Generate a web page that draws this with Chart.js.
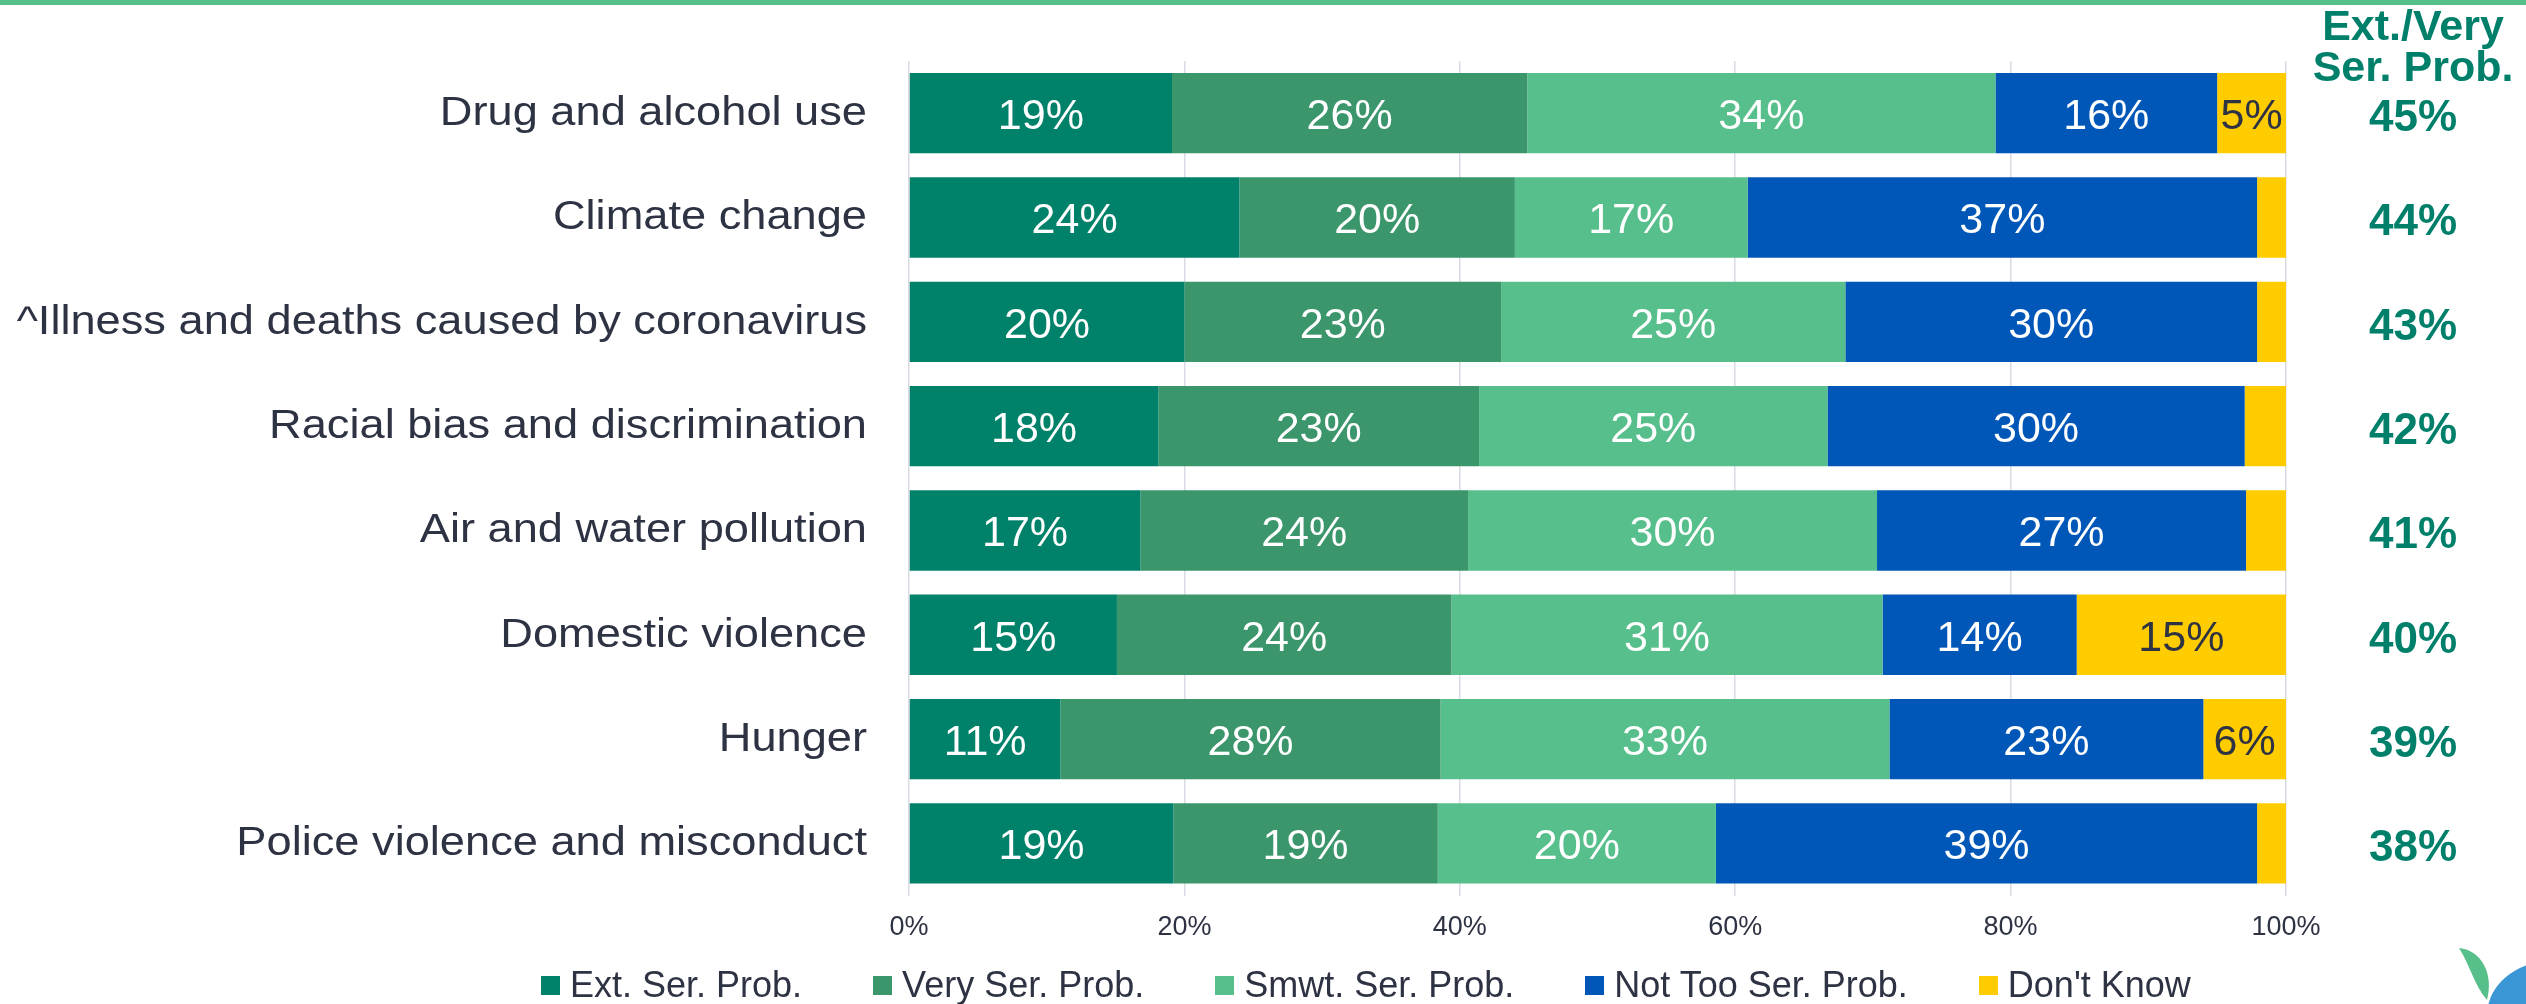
<!DOCTYPE html>
<html>
<head>
<meta charset="utf-8">
<title>Serious problems</title>
<script src="https://cdn.jsdelivr.net/npm/chart.js@4.4.1/dist/chart.umd.min.js"></script>
<style>
    html, body { margin: 0; padding: 0; background: #fff; }
    #wrap { position: relative; width: 2526px; height: 1004px; overflow: hidden; }
    #chart { display: block; }
    #legend { position: absolute; left: 541px; top: 967px; display: flex; align-items: center;
              font: 36px "Liberation Sans", Arial, sans-serif; color: #2e3344; line-height: 1; white-space: nowrap; }
    .item { display: flex; align-items: center; margin-right: 71px; }
    .box { width: 19px; height: 19px; margin-right: 10px; }
</style>
</head>
<body>
<div id="wrap">
    <canvas id="chart" width="2526" height="1004"></canvas>
    <div id="legend"></div>
</div>
<script>
// Data
const categories = [
    'Drug and alcohol use',
    'Climate change',
    '^Illness and deaths caused by coronavirus',
    'Racial bias and discrimination',
    'Air and water pollution',
    'Domestic violence',
    'Hunger',
    'Police violence and misconduct'
];
const extSer   = [19.1, 24.0, 20.0, 18.1, 16.8, 15.1, 11.0, 19.2];
const verySer  = [25.8, 20.0, 23.0, 23.3, 23.8, 24.3, 27.6, 19.2];
const smwtSer  = [34.0, 16.9, 25.0, 25.3, 29.7, 31.3, 32.6, 20.2];
const notTooSer = [16.1, 37.0, 29.9, 30.3, 26.8, 14.1, 22.8, 39.3];
const dontKnow = [5.0, 2.1, 2.1, 3.0, 2.9, 15.2, 6.0, 2.1];
const extVery  = [45, 44, 43, 42, 41, 40, 39, 38];
const xTicks   = [0, 20, 40, 60, 80, 100];

const seriesNames  = ['Ext. Ser. Prob.', 'Very Ser. Prob.', 'Smwt. Ser. Prob.', 'Not Too Ser. Prob.', "Don't Know"];
const seriesColors = ['#00816a', '#3b966c', '#57bf8b', '#0057b8', '#ffcc00'];
const seriesData   = [extSer, verySer, smwtSer, notTooSer, dontKnow];

const textColor = '#2e3344';
const brandGreen = '#00806a';
const font = '"Liberation Sans", Arial, sans-serif';

// Green rule on top + leaf in the corner
const decorPlugin = {
    id: 'decor',
    beforeDraw(chart) {
        const ctx = chart.ctx;
        ctx.save();
        ctx.fillStyle = '#57bf8a';
        ctx.fillRect(0, 0, chart.width, 5);
        ctx.restore();
    },
    afterDraw(chart) {
        const ctx = chart.ctx;
        ctx.save();
        ctx.fillStyle = '#57bf8a';
        ctx.beginPath();
        ctx.moveTo(2459, 948);
        ctx.bezierCurveTo(2482, 950, 2494, 975, 2487, 1000);
        ctx.bezierCurveTo(2474, 985, 2470, 965, 2459, 948);
        ctx.fill();
        ctx.fillStyle = '#3a96d4';
        ctx.beginPath();
        ctx.ellipse(2545, 1010, 58, 48, -0.2, 0, Math.PI * 2);
        ctx.fill();
        ctx.restore();
    }
};

// Category names, drawn a bit wide like the original
const rowLabelPlugin = {
    id: 'rowLabels',
    afterDraw(chart) {
        const ctx = chart.ctx;
        const yScale = chart.scales.y;
        const stretch = 1.13;
        ctx.save();
        ctx.font = '40px ' + font;
        ctx.fillStyle = textColor;
        ctx.textAlign = 'right';
        ctx.textBaseline = 'alphabetic';
        ctx.scale(stretch, 1);
        categories.forEach((name, i) => {
            ctx.fillText(name, (chart.chartArea.left - 42) / stretch, yScale.getPixelForValue(i) + 12);
        });
        ctx.restore();
    }
};

// Percent labels inside the bar segments
const segmentLabelPlugin = {
    id: 'segmentLabels',
    afterDatasetsDraw(chart) {
        const ctx = chart.ctx;
        ctx.save();
        ctx.font = '43px ' + font;
        ctx.textAlign = 'center';
        ctx.textBaseline = 'alphabetic';
        chart.data.datasets.forEach((ds, d) => {
            const meta = chart.getDatasetMeta(d);
            ctx.fillStyle = d === 4 ? textColor : '#fff';
            meta.data.forEach((bar, j) => {
                const v = ds.data[j];
                if (v < 4) return;
                const p = bar.getProps(['x', 'y', 'base'], true);
                ctx.fillText(Math.round(v) + '%', (p.x + p.base) / 2, p.y + 16);
            });
        });
        ctx.restore();
    }
};

// Ext./Very column on the right
const sumColumnPlugin = {
    id: 'sumColumn',
    afterDraw(chart) {
        const ctx = chart.ctx;
        const cx = 2413;
        ctx.save();
        ctx.fillStyle = brandGreen;
        ctx.textAlign = 'center';
        ctx.textBaseline = 'alphabetic';
        ctx.font = 'bold 43px ' + font;
        ctx.fillText('Ext./Very', cx, 40);
        ctx.fillText('Ser. Prob.', cx, 81);
        ctx.font = 'bold 44px ' + font;
        extVery.forEach((v, i) => {
            ctx.fillText(v + '%', cx, chart.scales.y.getPixelForValue(i) + 18);
        });
        ctx.restore();
    }
};

const ctx = document.getElementById('chart').getContext('2d');
const chart = new Chart(ctx, {
    type: 'bar',
    data: {
        labels: categories,
        datasets: seriesNames.map((name, i) => ({
            label: name,
            data: seriesData[i],
            backgroundColor: seriesColors[i],
            borderWidth: 0,
            barPercentage: 0.77,
            categoryPercentage: 1
        }))
    },
    options: {
        indexAxis: 'y',
        responsive: false,
        animation: false,
        devicePixelRatio: 1,
        layout: { padding: { left: 909, right: 240, top: 61, bottom: 44 } },
        plugins: { legend: { display: false }, tooltip: { enabled: false } },
        scales: {
            x: {
                stacked: true,
                min: 0,
                max: 100,
                afterBuildTicks: scale => { scale.ticks = xTicks.map(v => ({ value: v })); },
                ticks: { callback: v => v + '%', color: textColor, font: { family: font, size: 27 }, padding: 16 },
                grid: { color: '#d9dbe4', lineWidth: 1.5, drawTicks: false },
                border: { display: false }
            },
            y: { stacked: true, display: false }
        }
    },
    plugins: [decorPlugin, rowLabelPlugin, segmentLabelPlugin, sumColumnPlugin]
});

// Legend in HTML under the chart
const legend = document.getElementById('legend');
seriesNames.forEach((name, i) => {
    const item = document.createElement('div');
    item.className = 'item';
    const box = document.createElement('span');
    box.className = 'box';
    box.style.background = seriesColors[i];
    const label = document.createElement('span');
    label.textContent = name;
    item.appendChild(box);
    item.appendChild(label);
    legend.appendChild(item);
});
</script>
</body>
</html>
